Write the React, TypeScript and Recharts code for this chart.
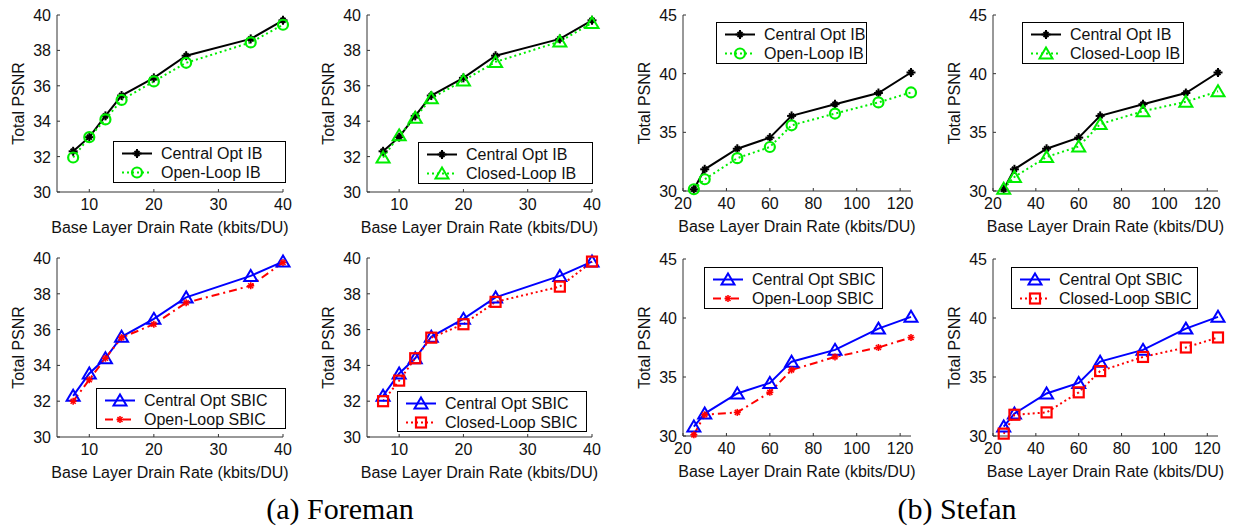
import React from 'react';
import { LineChart, Line, XAxis, YAxis, Legend } from 'recharts';

const FONT = '"Liberation Sans", Arial, Helvetica, sans-serif';
const AXIS = '#333';
const INK = '#111';

// --- Data ---

// Foreman (kbits/DU vs Total PSNR)
const foremanRate = [7.5, 10, 12.5, 15, 20, 25, 35, 40];
const foremanCentralIB = [32.3, 33.1, 34.3, 35.45, 36.45, 37.7, 38.65, 39.7];
const foremanOpenIB = [31.95, 33.1, 34.1, 35.2, 36.25, 37.3, 38.45, 39.45];
const foremanClosedIB = [31.95, 33.2, 34.2, 35.3, 36.3, 37.35, 38.5, 39.55];
const foremanCentralSBIC = [32.3, 33.55, 34.4, 35.6, 36.6, 37.8, 39.0, 39.8];
const foremanOpenSBIC = [32.0, 33.2, 34.4, 35.55, 36.3, 37.5, 38.45, 39.75];
const foremanClosedSBIC = [32.0, 33.15, 34.4, 35.55, 36.3, 37.55, 38.4, 39.8];

// Stefan
const stefanRate = [25, 30, 45, 60, 70, 90, 110, 125];
const stefanCentralIB = [30.15, 31.85, 33.6, 34.55, 36.4, 37.4, 38.35, 40.1];
const stefanOpenIB = [30.15, 31.0, 32.8, 33.75, 35.6, 36.6, 37.55, 38.4];
const stefanClosedIB = [30.2, 31.2, 32.9, 33.8, 35.7, 36.8, 37.6, 38.5];
const stefanCentralSBIC = [30.8, 31.9, 33.6, 34.5, 36.3, 37.3, 39.1, 40.1];
const stefanOpenSBIC = [30.1, 31.8, 32.0, 33.7, 35.6, 36.7, 37.5, 38.35];
const stefanClosedSBIC = [30.2, 31.8, 32.0, 33.7, 35.5, 36.7, 37.5, 38.35];

// Axes
const foremanXDomain = [5, 40];
const foremanXTicks = [10, 20, 30, 40];
const foremanYDomain = [30, 40];
const foremanYTicks = [30, 32, 34, 36, 38, 40];
const stefanXDomain = [20, 125];
const stefanXTicks = [20, 40, 60, 80, 100, 120];
const stefanYDomain = [30, 45];
const stefanYTicks = [30, 35, 40, 45];

// --- Series styles ---

type Shape = 'star' | 'circle' | 'triangle' | 'square' | 'cross';
type Series = { name: string; color: string; dash?: string; shape: Shape };

const centralIB: Series = { name: 'Central Opt IB', color: '#000000', shape: 'star' };
const openIB: Series = { name: 'Open-Loop IB', color: '#00ee00', dash: '2 3', shape: 'circle' };
const closedIB: Series = { name: 'Closed-Loop IB', color: '#00ee00', dash: '2 3', shape: 'triangle' };
const centralSBIC: Series = { name: 'Central Opt SBIC', color: '#0000ff', shape: 'triangle' };
const openSBIC: Series = { name: 'Open-Loop SBIC', color: '#ff0000', dash: '8 4 2 4', shape: 'cross' };
const closedSBIC: Series = { name: 'Closed-Loop SBIC', color: '#ff0000', dash: '2 3', shape: 'square' };

const Marker = ({ shape, cx, cy, color }: { shape: Shape; cx: number; cy: number; color: string }) => {
    if (cx == null || cy == null) return null;
    switch (shape) {
        case 'star':
            return (
                <g stroke={color} strokeWidth={2}>
                    <line x1={cx - 4.5} x2={cx + 4.5} y1={cy} y2={cy} />
                    <line x1={cx} x2={cx} y1={cy - 4.5} y2={cy + 4.5} />
                    <line x1={cx - 2.5} x2={cx + 2.5} y1={cy - 2.5} y2={cy + 2.5} />
                    <line x1={cx - 2.5} x2={cx + 2.5} y1={cy + 2.5} y2={cy - 2.5} />
                </g>
            );
        case 'cross':
            return (
                <g stroke={color} strokeWidth={1.6}>
                    <line x1={cx - 3.5} x2={cx + 3.5} y1={cy} y2={cy} />
                    <line x1={cx} x2={cx} y1={cy - 3.5} y2={cy + 3.5} />
                    <line x1={cx - 2.5} x2={cx + 2.5} y1={cy - 2.5} y2={cy + 2.5} />
                    <line x1={cx - 2.5} x2={cx + 2.5} y1={cy + 2.5} y2={cy - 2.5} />
                </g>
            );
        case 'circle':
            return <circle cx={cx} cy={cy} r={5} fill="none" stroke={color} strokeWidth={2.2} />;
        case 'triangle':
            return (
                <polygon
                    points={`${cx},${cy - 6} ${cx + 6.5},${cy + 5} ${cx - 6.5},${cy + 5}`}
                    fill="none"
                    stroke={color}
                    strokeWidth={2}
                />
            );
        case 'square':
            return <rect x={cx - 5} y={cy - 5} width={10} height={10} fill="none" stroke={color} strokeWidth={2.2} />;
    }
    return null;
};

const dotFor = (s: Series) => (p: any) => (
    <Marker key={`${s.name}-${p.index}`} shape={s.shape} cx={p.cx} cy={p.cy} color={s.color} />
);

// --- Axis pieces ---

const XTick = (p: any) => (
    <g>
        <line x1={p.x} x2={p.x} y1={p.y} y2={p.y - 3} stroke={AXIS} />
        <text x={p.x} y={p.y + 18} textAnchor="middle" fontSize={16} fontFamily={FONT} fill={INK}>
            {p.payload.value}
        </text>
    </g>
);

const YTick = (p: any) => (
    <g>
        <line x1={p.x} x2={p.x + 3} y1={p.y} y2={p.y} stroke={AXIS} />
        <text x={p.x - 6} y={p.y + 6} textAnchor="end" fontSize={16} fontFamily={FONT} fill={INK}>
            {p.payload.value}
        </text>
    </g>
);

const XLabel = (p: any) => {
    const vb = p.viewBox;
    return (
        <text x={vb.x + vb.width / 2} y={vb.y + 41} textAnchor="middle" fontSize={16} fontFamily={FONT} fill={INK}>
            Base Layer Drain Rate (kbits/DU)
        </text>
    );
};

const YLabel = (p: any) => {
    const vb = p.viewBox;
    const x = vb.x + 18;
    const y = vb.y + vb.height / 2;
    return (
        <text
            x={x}
            y={y}
            transform={`rotate(-90 ${x} ${y})`}
            textAnchor="middle"
            dominantBaseline="central"
            fontSize={16}
            fontFamily={FONT}
            fill={INK}
        >
            Total PSNR
        </text>
    );
};

// --- Legend ---

const LegendBox = ({ items, w, h }: { items: Series[]; w: number; h: number }) => (
    <div
        style={{
            position: 'relative',
            width: w,
            height: h,
            boxSizing: 'border-box',
            border: '1px solid #000',
            background: '#fff',
            fontFamily: FONT,
            fontSize: 16,
            color: INK,
        }}
    >
        {items.map((s, i) => (
            <div key={s.name} style={{ position: 'absolute', left: 0, top: 2 + i * 19, height: 19, width: w }}>
                <svg width={34} height={19} style={{ position: 'absolute', left: 7, top: 0 }}>
                    <line x1={1} x2={31} y1={9.5} y2={9.5} stroke={s.color} strokeWidth={2} strokeDasharray={s.dash} />
                    <Marker shape={s.shape} cx={16} cy={9.5} color={s.color} />
                </svg>
                <span style={{ position: 'absolute', left: 47, top: 0, lineHeight: '19px', whiteSpace: 'nowrap' }}>
                    {s.name}
                </span>
            </div>
        ))}
    </div>
);

// --- Panel ---

type PanelProps = {
    plot: [number, number, number, number]; // left, top, right, bottom of plot area
    legend: [number, number, number, number]; // left, top, right, bottom of legend box
    xs: number[];
    a: number[];
    b: number[];
    sa: Series;
    sb: Series;
    xDomain: number[];
    xTicks: number[];
    yDomain: number[];
    yTicks: number[];
};

const Panel = ({ plot, legend, xs, a, b, sa, sb, xDomain, xTicks, yDomain, yTicks }: PanelProps) => {
    const data = xs.map((x, i) => ({ x, a: a[i], b: b[i] }));
    const [pl, pt, pr, pb] = plot;
    const boxLeft = pl - 57;
    const boxTop = pt - 10;
    const width = pr - pl + 57 + 14;
    const height = pb - pt + 10 + 50;
    const [ll, lt, lr, lb] = legend;
    return (
        <div style={{ position: 'absolute', left: boxLeft, top: boxTop }}>
            <LineChart width={width} height={height} data={data} margin={{ top: 10, right: 14, left: 0, bottom: 0 }}>
                <XAxis
                    type="number"
                    dataKey="x"
                    domain={xDomain}
                    ticks={xTicks}
                    interval={0}
                    height={50}
                    tickSize={0}
                    tickMargin={0}
                    tickLine={false}
                    axisLine={{ stroke: AXIS }}
                    tick={XTick}
                    label={{ content: XLabel }}
                />
                <YAxis
                    type="number"
                    domain={yDomain}
                    ticks={yTicks}
                    interval={0}
                    width={57}
                    tickSize={0}
                    tickMargin={0}
                    tickLine={false}
                    axisLine={{ stroke: AXIS }}
                    tick={YTick}
                    label={{ content: YLabel }}
                />
                <Legend
                    layout="vertical"
                    align="center"
                    verticalAlign="middle"
                    wrapperStyle={{ left: ll - boxLeft, top: lt - boxTop, width: lr - ll, height: lb - lt }}
                    content={() => <LegendBox items={[sa, sb]} w={lr - ll} h={lb - lt} />}
                />
                <Line
                    type="linear"
                    dataKey="a"
                    name={sa.name}
                    stroke={sa.color}
                    strokeWidth={2}
                    strokeDasharray={sa.dash}
                    dot={dotFor(sa)}
                    activeDot={false}
                    isAnimationActive={false}
                />
                <Line
                    type="linear"
                    dataKey="b"
                    name={sb.name}
                    stroke={sb.color}
                    strokeWidth={2}
                    strokeDasharray={sb.dash}
                    dot={dotFor(sb)}
                    activeDot={false}
                    isAnimationActive={false}
                />
            </LineChart>
        </div>
    );
};

const foremanAxes = { xs: foremanRate, xDomain: foremanXDomain, xTicks: foremanXTicks, yDomain: foremanYDomain, yTicks: foremanYTicks };
const stefanAxes = { xs: stefanRate, xDomain: stefanXDomain, xTicks: stefanXTicks, yDomain: stefanYDomain, yTicks: stefanYTicks };

const captionStyle: React.CSSProperties = {
    position: 'absolute',
    top: 492,
    width: 300,
    textAlign: 'center',
    fontFamily: '"Liberation Serif", "Times New Roman", serif',
    fontSize: 30,
    lineHeight: '34px',
    color: '#000',
};

export default function App() {
    return (
        <div style={{ position: 'absolute', left: 0, top: 0, width: 1235, height: 529, background: '#fff', overflow: 'hidden' }}>
            {/* Foreman, IB */}
            <Panel {...foremanAxes} plot={[57, 15, 283, 192]} legend={[113, 141, 286, 183]}
                a={foremanCentralIB} b={foremanOpenIB} sa={centralIB} sb={openIB} />
            <Panel {...foremanAxes} plot={[367, 15, 592, 192]} legend={[418, 142, 593, 184]}
                a={foremanCentralIB} b={foremanClosedIB} sa={centralIB} sb={closedIB} />
            {/* Stefan, IB */}
            <Panel {...stefanAxes} plot={[683, 15, 911, 191]} legend={[716, 22, 867, 64]}
                a={stefanCentralIB} b={stefanOpenIB} sa={centralIB} sb={openIB} />
            <Panel {...stefanAxes} plot={[993, 15, 1218, 191]} legend={[1022, 22, 1184, 64]}
                a={stefanCentralIB} b={stefanClosedIB} sa={centralIB} sb={closedIB} />
            {/* Foreman, SBIC */}
            <Panel {...foremanAxes} plot={[57, 258, 283, 437]} legend={[96, 388, 286, 429]}
                a={foremanCentralSBIC} b={foremanOpenSBIC} sa={centralSBIC} sb={openSBIC} />
            <Panel {...foremanAxes} plot={[367, 258, 592, 437]} legend={[397, 391, 587, 432]}
                a={foremanCentralSBIC} b={foremanClosedSBIC} sa={centralSBIC} sb={closedSBIC} />
            {/* Stefan, SBIC */}
            <Panel {...stefanAxes} plot={[683, 259, 911, 436]} legend={[704, 267, 883, 309]}
                a={stefanCentralSBIC} b={stefanOpenSBIC} sa={centralSBIC} sb={openSBIC} />
            <Panel {...stefanAxes} plot={[993, 259, 1218, 436]} legend={[1011, 267, 1198, 309]}
                a={stefanCentralSBIC} b={stefanClosedSBIC} sa={centralSBIC} sb={closedSBIC} />

            <div style={{ ...captionStyle, left: 340 - 150 }}>(a) Foreman</div>
            <div style={{ ...captionStyle, left: 957 - 150 }}>(b) Stefan</div>
        </div>
    );
}
